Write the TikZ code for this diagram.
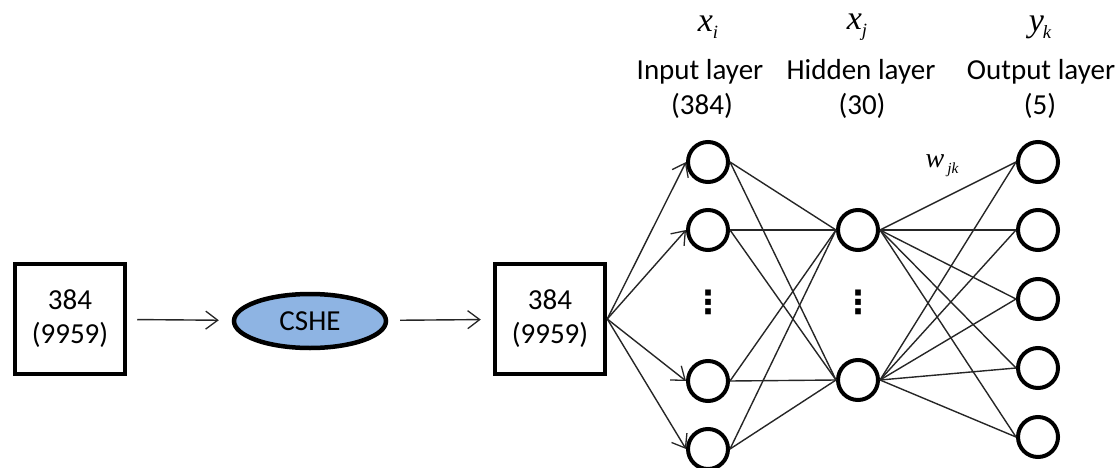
\documentclass[tikz,border=0pt]{standalone}
\usepackage{fontspec}
\setmainfont{Carlito}
\newfontfamily\serifit{Liberation Serif}
\newfontfamily\dotsfont{DejaVu Sans}
\usetikzlibrary{arrows.meta,shapes.geometric}
\newcommand\mvar[4]{{\fontsize{#3}{#3}\selectfont\serifit\itshape #1\hspace{#4}\raisebox{-0.22em}{\fontsize{0.55\dimexpr#3pt\relax}{1pt}\selectfont #2}}}
\begin{document}
\begin{tikzpicture}[x=1pt,y=-1pt,
  neuron/.style={circle, draw, line width=4pt, minimum size=40pt, inner sep=0pt},
  block/.style={draw, line width=4.5pt, minimum size=110pt, inner sep=0pt, align=center, font=\fontsize{29}{34}\selectfont},
  link/.style={line width=1.4pt, draw=black!85},
  feed/.style={link, -{Straight Barb[length=12pt,width=18pt,line width=1.3pt]}},
  lbl/.style={font=\fontsize{29}{34}\selectfont, inner sep=0pt},
  vdotsnode/.style={font=\fontsize{32}{32}\selectfont\dotsfont\bfseries, inner sep=0pt}]
\useasboundingbox (0,0) rectangle (1118,468);

% blocks
\node[block] (b1) at (70,319) {384\\(9959)};
\node[ellipse, draw, line width=4.5pt, fill={rgb,255:red,142;green,180;blue,227},
      minimum width=152pt, minimum height=54pt, inner sep=0pt,
      font=\fontsize{29}{34}\selectfont] (cshe) at (310,321) {CSHE};
\node[block] (b2) at (550,319) {384\\(9959)};

\draw[feed, shorten <=10pt, shorten >=13pt] (b1) -- (cshe);
\draw[feed, shorten <=12pt, shorten >=12pt] (cshe) -- (b2);

% input layer
\node[neuron] (i1) at (708,162) {};
\node[neuron] (i2) at (708,230) {};
\node[neuron] (i3) at (708,381) {};
\node[neuron] (i4) at (708,449) {};
\node[vdotsnode] (id) at (708,302) {⋮};

% hidden layer
\node[neuron] (h1) at (858,230) {};
\node[neuron] (h2) at (858,380) {};
\node[vdotsnode] (hd) at (858,302) {⋮};

% output layer
\node[neuron] (o1) at (1038,162) {};
\node[neuron] (o2) at (1038,230) {};
\node[neuron] (o3) at (1038,299) {};
\node[neuron] (o4) at (1038,368) {};
\node[neuron] (o5) at (1038,437) {};

% box2 to inputs
\coordinate (src) at (b2.east);
\foreach \n in {i1,i2,i3,i4} \draw[feed] (src) -- (\n.west);

% input to hidden
\foreach \n in {i1,i2,i3,i4} \foreach \m in {h1,h2} \draw[link] (\n.east) -- (\m.west);

% hidden to output
\foreach \m in {h1,h2} \foreach \o in {o1,o2,o3,o4,o5} \draw[link] (\m.east) -- (\o.west);

% labels
\node[lbl] (xi) at (708,27) {\mvar{x}{i}{34}{0pt}};
\node[lbl] (xj) at (857,27) {\mvar{x}{j}{34}{0pt}};
\node[lbl] (yk) at (1040,27) {\mvar{y}{k}{34}{-1pt}};
\node[lbl] (il) at (700,72) {Input layer};
\node[lbl] (hl) at (861,72) {Hidden layer};
\node[lbl] (ol) at (1041,72) {Output layer};
\node[lbl] (in) at (702,106) {(384)};
\node[lbl] (hn) at (862,106) {(30)};
\node[lbl] (on) at (1040,106) {(5)};
\node[lbl] (w) at (942,166) {\mvar{w}{jk}{28}{3pt}};
\end{tikzpicture}
\end{document}
